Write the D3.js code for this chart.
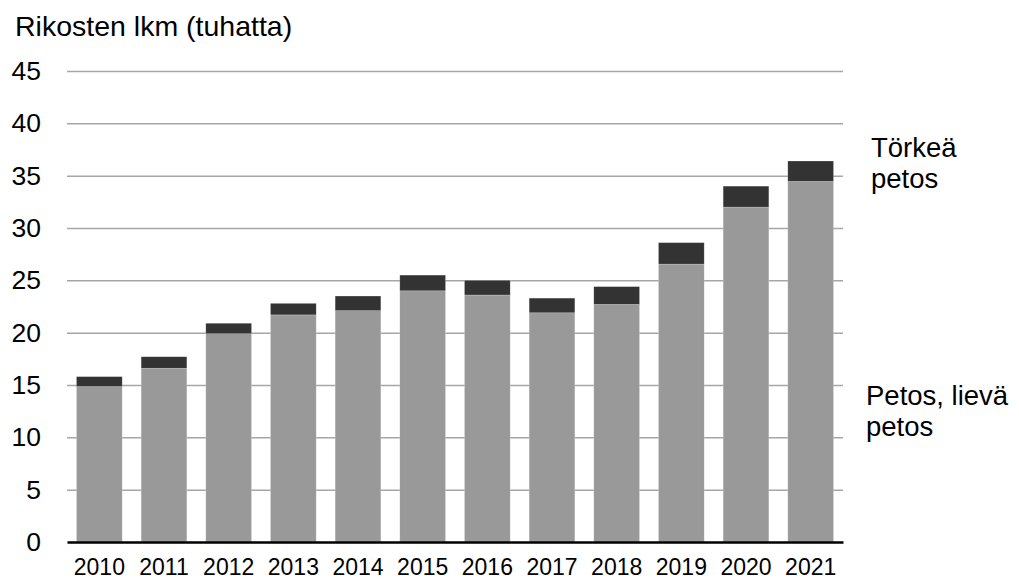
<!DOCTYPE html>
<html>
<head>
<meta charset="utf-8">
<script src="https://cdn.jsdelivr.net/npm/d3@7"></script>
<style>
  html, body { margin: 0; padding: 0; background: #fff; }
  svg { display: block; font-family: "Liberation Sans", Arial, sans-serif; }
</style>
</head>
<body>
<svg id="chart" width="1019" height="584"></svg>
<script>
// Petokset vuosittain (tuhatta rikosta)
const years = ["2010", "2011", "2012", "2013", "2014", "2015", "2016", "2017", "2018", "2019", "2020", "2021"];
const petos = [14.85, 16.6, 19.9, 21.7, 22.1, 24.0, 23.6, 21.9, 22.7, 26.55, 32.0, 34.45];
const torkea = [0.95, 1.1, 1.0, 1.1, 1.4, 1.5, 1.4, 1.4, 1.7, 2.05, 2.0, 1.95];
const yTicks = [0, 5, 10, 15, 20, 25, 30, 35, 40, 45];
const seriesNames = ["petos", "torkea"];
const seriesLabels = { petos: ["Petos, lievä", "petos"], torkea: ["Törkeä", "petos"] };
const colors = { petos: "#999999", torkea: "#333333" };

const svg = d3.select("#chart");
const margin = { left: 67, right: 176, top: 71, bottom: 42 };
const W = 1019, H = 584;

const x = d3.scaleBand()
  .domain(years)
  .range([margin.left, W - margin.right])
  .paddingInner(0.293)
  .paddingOuter(0.1465);

const y = d3.scaleLinear()
  .domain([0, 45])
  .range([H - margin.bottom, margin.top]);

// vaakaviivat
const grid = svg.append("g")
  .attr("transform", `translate(${margin.left},0)`)
  .call(d3.axisLeft(y).tickValues(yTicks.filter(d => d > 0))
    .tickSize(-(W - margin.left - margin.right)).tickFormat(""));
grid.select(".domain").remove();
grid.selectAll(".tick line").attr("stroke", "#a6a6a6").attr("stroke-width", 1.5);

// y-akselin luvut
const yAxis = svg.append("g")
  .attr("transform", `translate(${margin.left},0)`)
  .call(d3.axisLeft(y).tickValues(yTicks).tickSize(0).tickPadding(26));
yAxis.select(".domain").remove();
yAxis.selectAll("text")
  .attr("font-size", 26.5)
  .attr("fill", "#000")
  .attr("font-family", "'Liberation Sans', Arial, sans-serif");

// pinotut pylväät
const rows = years.map((yr, i) => ({ year: yr, petos: petos[i], torkea: torkea[i] }));
const stacked = d3.stack().keys(seriesNames)(rows);

svg.append("g").selectAll("g")
  .data(stacked)
  .join("g")
  .attr("fill", d => colors[d.key])
  .selectAll("rect")
  .data(d => d)
  .join("rect")
  .attr("x", d => x(d.data.year))
  .attr("width", x.bandwidth())
  .attr("y", d => y(d[1]))
  .attr("height", d => y(d[0]) - y(d[1]))
  .attr("stroke", "rgba(255,255,255,0.35)")
  .attr("stroke-width", 0.6);

// x-akseli
const xAxis = svg.append("g")
  .attr("transform", `translate(0,${y(0)})`)
  .call(d3.axisBottom(x).tickSize(0).tickPadding(17));
xAxis.select(".domain").attr("stroke", "#000").attr("stroke-width", 2.5);
xAxis.selectAll("text")
  .attr("font-size", 23)
  .attr("fill", "#000")
  .attr("font-family", "'Liberation Sans', Arial, sans-serif");

// otsikko
svg.append("text")
  .attr("x", 15)
  .attr("y", 36)
  .attr("font-size", 28.5)
  .attr("fill", "#000")
  .text("Rikosten lkm (tuhatta)");

// sarjojen nimet oikealla
const legendPos = { torkea: [871, 156.5], petos: [866, 405] };
seriesNames.forEach(k => {
  const [lx, ly] = legendPos[k];
  const t = svg.append("text")
    .attr("x", lx)
    .attr("y", ly)
    .attr("font-size", 27.5)
    .attr("fill", "#000");
  seriesLabels[k].forEach((line, i) => {
    t.append("tspan").attr("x", lx).attr("dy", i === 0 ? 0 : 31).text(line);
  });
});
</script>
</body>
</html>
